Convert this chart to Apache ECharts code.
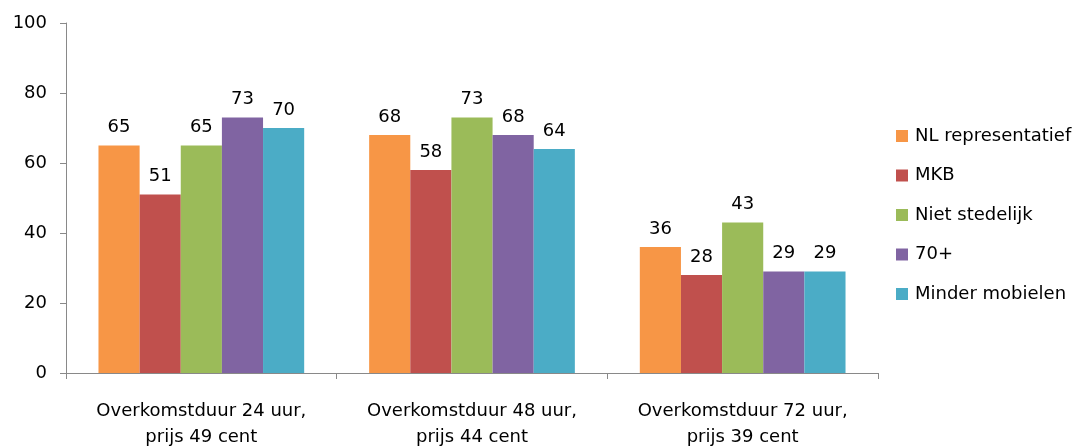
<!DOCTYPE html>
<html>
<head>
<meta charset="utf-8">
<script src="https://cdn.jsdelivr.net/npm/echarts@6/dist/echarts.min.js"></script>
<style>
  html, body { margin: 0; padding: 0; background: #fff; }
  #chart { width: 1077px; height: 447px; }
</style>
</head>
<body>
<div id="chart"></div>
<script>
// Categories (offer scenarios)
const categories = [
  'Overkomstduur 24 uur,\nprijs 49 cent',
  'Overkomstduur 48 uur,\nprijs 44 cent',
  'Overkomstduur 72 uur,\nprijs 39 cent'
];

// Share per respondent group (%)
const nlRepresentatief = [65, 68, 36];
const mkb = [51, 58, 28];
const nietStedelijk = [65, 73, 43];
const zeventigPlus = [73, 68, 29];
const minderMobielen = [70, 64, 29];

const yTicks = [0, 20, 40, 60, 80, 100];

const seriesDefs = [
  { name: 'NL representatief', data: nlRepresentatief, color: '#F79646' },
  { name: 'MKB', data: mkb, color: '#C0504D' },
  { name: 'Niet stedelijk', data: nietStedelijk, color: '#9BBB59' },
  { name: '70+', data: zeventigPlus, color: '#8064A2' },
  { name: 'Minder mobielen', data: minderMobielen, color: '#4BACC6' }
];

const FONT = 'DejaVu Sans';
const FS = 18;
const chart = echarts.init(document.getElementById('chart'), null, { renderer: 'canvas' });

chart.setOption({
  animation: false,
  textStyle: { fontFamily: FONT },
  grid: { left: 66, right: 199, top: 23, bottom: 74, containLabel: false, outerBoundsMode: 'none' },
  legend: {
    orient: 'vertical',
    left: 891,
    top: 122,
    itemWidth: 12,
    itemHeight: 12,
    itemGap: 21.5,
    icon: 'rect',
    textStyle: { fontFamily: FONT, fontSize: FS, color: '#000', padding: [0, 0, 0, 2] },
    data: seriesDefs.map(s => s.name)
  },
  xAxis: {
    type: 'category',
    data: categories,
    axisLine: { lineStyle: { color: '#898989', width: 1 } },
    axisTick: { show: true, length: 6, alignWithLabel: false, lineStyle: { color: '#898989' } },
    axisLabel: {
      interval: 0,
      hideOverlap: false,
      fontFamily: FONT, fontSize: FS, color: '#000', margin: 25, lineHeight: 26
    },
    splitLine: { show: false }
  },
  yAxis: {
    type: 'value',
    min: yTicks[0],
    max: yTicks[yTicks.length - 1],
    interval: 20,
    axisLine: { show: true, lineStyle: { color: '#898989', width: 1 } },
    axisTick: { show: true, length: 6, lineStyle: { color: '#898989' } },
    axisLabel: { fontFamily: FONT, fontSize: FS, color: '#000', margin: 19 },
    splitLine: { show: false }
  },
  series: seriesDefs.map(s => ({
    name: s.name,
    type: 'bar',
    data: s.data,
    barGap: '0%',
    barCategoryGap: '24%',
    itemStyle: { color: s.color },
    label: {
      show: true,
      position: 'top',
      distance: 9,
      fontFamily: FONT,
      fontSize: FS,
      color: '#000'
    }
  }))
});
</script>
</body>
</html>
